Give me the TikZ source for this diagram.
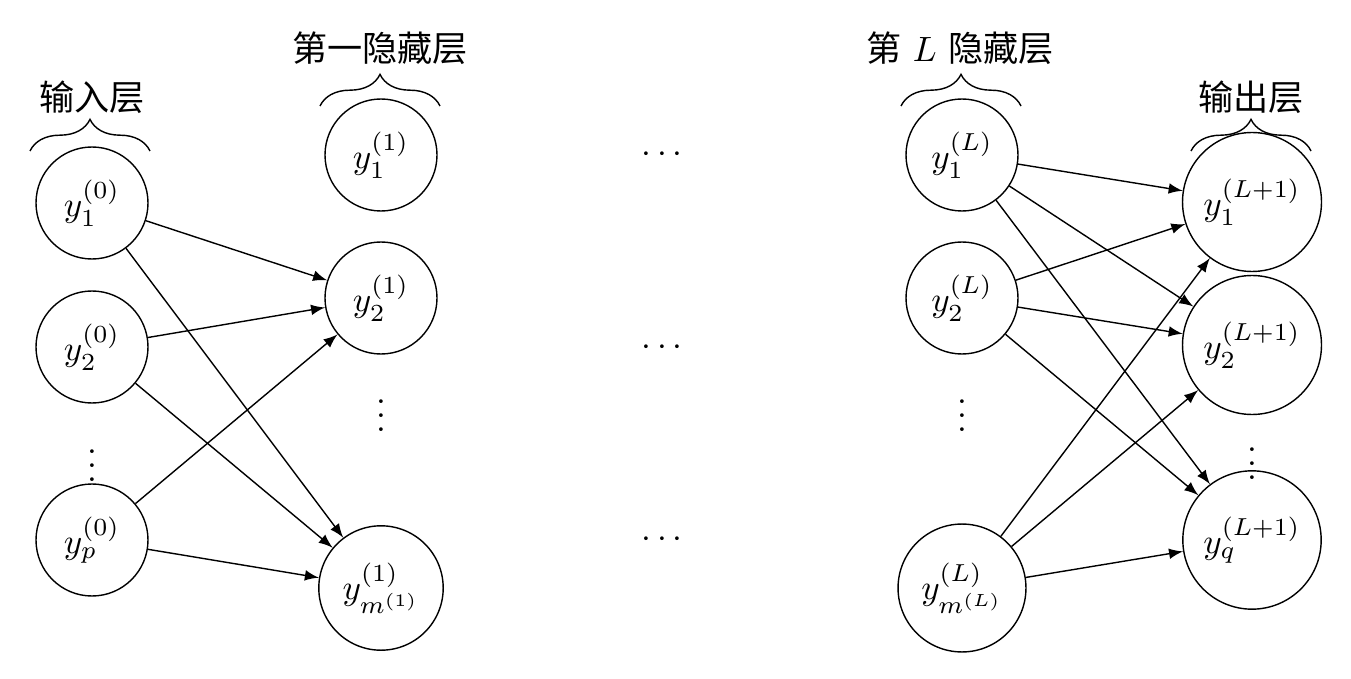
\documentclass[tikz,border=0pt]{standalone}
\usepackage{amsmath, amssymb}
\usepackage{fontspec}
\newfontfamily\cjk{Noto Sans CJK SC}
\usepackage{tikz}
\usetikzlibrary{decorations.pathreplacing}

\tikzset{
  neuron/.style={draw, circle, minimum size=1.12cm, inner sep=0.3333em},
  gap/.style={inner sep=0pt},
  layerbrace/.style={decorate, decoration={brace, amplitude=9pt}},
}

\begin{document}
\begin{tikzpicture}[>=latex]
            \useasboundingbox (0, 0) rectangle (13.51, 6.78);
            % input layer
            \node[neuron] (x1) at (0.92, 4.75) {$y_1^{(0)}$};
            \node[neuron] (x2) at (0.92, 3.31) {$y_2^{(0)}$};
            \node[gap] (xdots) at (0.92, 2.23) {$\vdots$};
            \node[neuron] (xp) at (0.92, 1.38) {$y_p^{(0)}$};
            \draw[layerbrace] (0.30, 5.27) -- (1.50, 5.27);
            \node (inlabel) at (0.92, 5.81) {\cjk 输入层};
            % first hidden layer
            \node[neuron] (h1) at (3.81, 5.23) {$y_1^{(1)}$};
            \node[neuron] (h2) at (3.81, 3.80) {$y_2^{(1)}$};
            \node[gap] (hdots) at (3.81, 2.73) {$\vdots$};
            \node[neuron] (hm) at (3.81, 0.90) {$y_{m^{(1)}}^{(1)}$};
            \draw[layerbrace] (3.20, 5.72) -- (4.40, 5.72);
            \node (h1label) at (3.80, 6.30) {\cjk 第一隐藏层};
            % dots between the hidden layers
            \node[gap] (mid1) at (6.65, 5.23) {$\cdots$};
            \node[gap] (mid2) at (6.65, 3.30) {$\cdots$};
            \node[gap] (mid3) at (6.65, 1.38) {$\cdots$};
            % L-th hidden layer
            \node[neuron] (l1) at (9.62, 5.23) {$y_1^{(L)}$};
            \node[neuron] (l2) at (9.62, 3.80) {$y_2^{(L)}$};
            \node[gap] (ldots) at (9.62, 2.73) {$\vdots$};
            \node[neuron] (lm) at (9.62, 0.90) {$y_{m^{(L)}}^{(L)}$};
            \draw[layerbrace] (9.01, 5.72) -- (10.21, 5.72);
            \node (lLabel) at (9.60, 6.30) {{\cjk 第} $L$ {\cjk 隐藏层}};
            % output layer
            \node[neuron] (o1) at (12.52, 4.76) {$y_1^{(L+1)}$};
            \node[neuron] (o2) at (12.52, 3.33) {$y_2^{(L+1)}$};
            \node[gap] (odots) at (12.52, 2.25) {$\vdots$};
            \node[neuron] (oq) at (12.52, 1.38) {$y_q^{(L+1)}$};
            \draw[layerbrace] (11.91, 5.27) -- (13.11, 5.27);
            \node (outlabel) at (12.51, 5.81) {\cjk 输出层};
            % connections
            \draw[->] (x1) -- (h2);
            \draw[->] (x1) -- (hm);
            \draw[->] (x2) -- (h2);
            \draw[->] (x2) -- (hm);
            \draw[->] (xp) -- (h2);
            \draw[->] (xp) -- (hm);
            \draw[->] (l1) -- (o1);
            \draw[->] (l1) -- (o2);
            \draw[->] (l1) -- (oq);
            \draw[->] (l2) -- (o1);
            \draw[->] (l2) -- (o2);
            \draw[->] (l2) -- (oq);
            \draw[->] (lm) -- (o1);
            \draw[->] (lm) -- (o2);
            \draw[->] (lm) -- (oq);
        \end{tikzpicture}
\end{document}
